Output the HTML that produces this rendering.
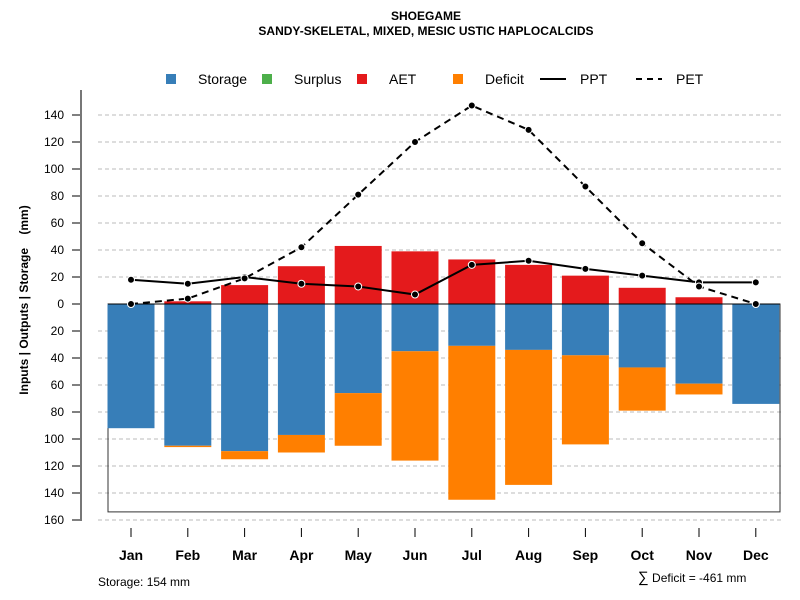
<!DOCTYPE html>
<html><head><meta charset="utf-8"><style>
body{margin:0;background:#fff}
svg{display:block;font-family:"Liberation Sans",sans-serif}
</style></head><body>
<svg id="c" width="800" height="600" xmlns="http://www.w3.org/2000/svg">
<text x="426" y="20" text-anchor="middle" font-size="12" font-weight="bold">SHOEGAME</text>
<text x="426" y="35" text-anchor="middle" font-size="12" font-weight="bold">SANDY-SKELETAL, MIXED, MESIC USTIC HAPLOCALCIDS</text>
<text x="28" y="300" transform="rotate(-90 28 300)" text-anchor="middle" font-size="12" font-weight="bold">Inputs | Outputs | Storage&#160;&#160;&#160;&#160;(mm)</text>
<g id="grid"></g><g id="bars"></g><g id="lines"></g><g id="axes"></g>
<g>
<rect x="166" y="74" width="10" height="10" fill="#377eb8"/>
<text x="198" y="84" font-size="14">Storage</text>
<rect x="262" y="74" width="10" height="10" fill="#4daf4a"/>
<text x="294" y="84" font-size="14">Surplus</text>
<rect x="357" y="74" width="10" height="10" fill="#e41a1c"/>
<text x="389" y="84" font-size="14">AET</text>
<rect x="453" y="74" width="10" height="10" fill="#ff7f00"/>
<text x="485" y="84" font-size="14">Deficit</text>
<line x1="540" y1="79" x2="566" y2="79" stroke="#000" stroke-width="2"/>
<text x="580" y="84" font-size="14">PPT</text>
<line x1="636" y1="79" x2="662" y2="79" stroke="#000" stroke-width="2" stroke-dasharray="6,5"/>
<text x="676" y="84" font-size="14">PET</text>
</g>
<text x="98" y="586" font-size="12">Storage: 154 mm</text>
<text x="638" y="582" font-size="12"><tspan font-size="15">∑</tspan> Deficit = -461 mm</text>
</svg>
<script>
const months=["Jan","Feb","Mar","Apr","May","Jun","Jul","Aug","Sep","Oct","Nov","Dec"];
const aet=[0,2,14,28,43,39,33,29,21,12,5,0];
const storage=[92,105,109,97,66,35,31,34,38,47,59,74];
const deficit=[0,1,6,13,39,81,114,100,66,32,8,0];
const ppt=[18,15,20,15,13,7,29,32,26,21,16,16];
const pet=[0,4,19,42,81,120,147,129,87,45,13,0];
const yTicks=[140,120,100,80,60,40,20,0,-20,-40,-60,-80,-100,-120,-140,-160];
const soilStorage=154;
const NS="http://www.w3.org/2000/svg";
const y=v=>304-v*1.35;
const x=i=>131+i*56.8;
function mk(p,t,a){const e=document.createElementNS(NS,t);for(const k in a)e.setAttribute(k,a[k]);document.getElementById(p).appendChild(e);return e;}
yTicks.forEach(t=>{
 if(t!==0){const g=mk("grid","line",{x1:98,x2:782,y1:y(t),y2:y(t),stroke:"#bbb","stroke-dasharray":"4,3"});
 
 }
 const tk=mk("axes","line",{x1:72,x2:81,y1:y(t),y2:y(t),stroke:"#000"});
 
 
 const l=mk("axes","text",{x:64,y:y(t)+4,"text-anchor":"end","font-size":12});
 l.textContent=Math.abs(t);
 
 
});
const ax=mk("axes","line",{x1:81,x2:81,y1:90,y2:521,stroke:"#777","stroke-width":2});


const box=mk("bars","rect",{x:108,y:y(0),width:672,height:soilStorage*1.35,fill:"none",stroke:"#333"});


const bw=47;
months.forEach((m,i)=>{
 const cx=x(i);
 const a=mk("bars","rect",{x:cx-bw/2,y:y(aet[i]),width:bw,height:aet[i]*1.35,fill:"#e41a1c"});
 
 
 const s=mk("bars","rect",{x:cx-bw/2,y:y(0),width:bw,height:storage[i]*1.35,fill:"#377eb8"});
 
 
 const d=mk("bars","rect",{x:cx-bw/2,y:y(-storage[i]),width:bw,height:deficit[i]*1.35,fill:"#ff7f00"});
 
 
 const t=mk("axes","line",{x1:cx,x2:cx,y1:528,y2:537,stroke:"#000"});
 
 
 const l=mk("axes","text",{x:cx,y:560,"text-anchor":"middle","font-size":14,"font-weight":"bold"});
 l.textContent=m;
 
 
});
const z=mk("bars","line",{x1:108,x2:780,y1:y(0),y2:y(0),stroke:"#000"});


function series(vals,name,dash){
 const p=mk("lines","polyline",{points:vals.map((v,i)=>x(i)+","+y(v)).join(" "),fill:"none",stroke:"#000","stroke-width":2,"stroke-dasharray":dash});
 
 
 vals.forEach((v,i)=>{const c=mk("lines","circle",{cx:x(i),cy:y(v),r:3.5,fill:"#000",stroke:"#fff","stroke-width":1});
 
 });
}
series(ppt,"ppt","none");
series(pet,"pet","7,5");
</script>
</body></html>
